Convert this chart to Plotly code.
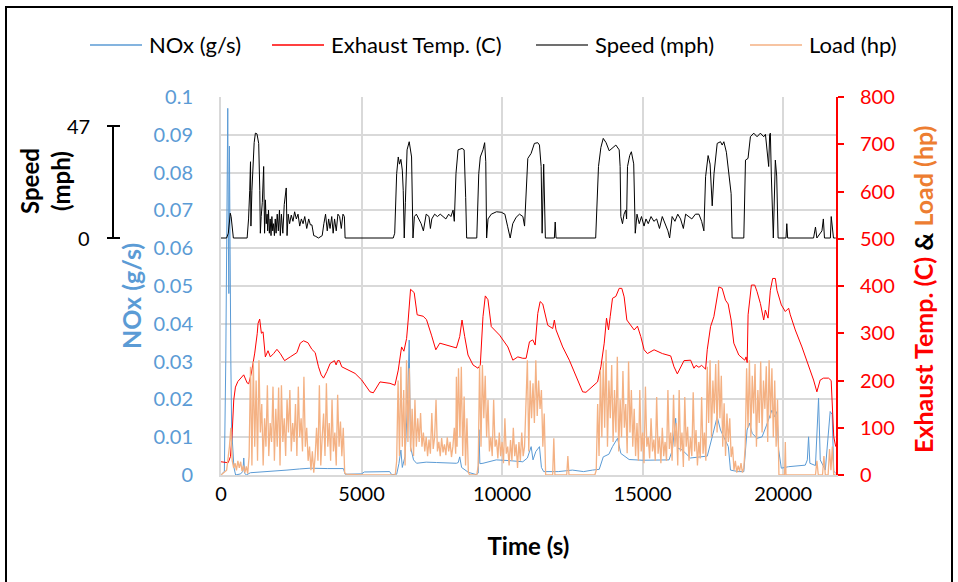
import plotly.graph_objects as go

# ---------------- data ----------------
nox_t = [0, 120, 170, 200, 240, 265, 280, 300, 320, 350, 380, 420, 460, 520, 700, 780, 810, 840, 900,
         1046, 1500, 2000, 2347, 2800, 3174, 3800, 4355, 4415, 5000, 5100, 6000, 6070, 6250, 6330, 6400,
         6450, 6550, 6640, 6696, 6740, 6850, 6958, 7300, 7666, 8000, 8375, 8440, 8493, 8560, 8670, 8800,
         9084, 9150, 9178, 9210, 9320, 9793, 10266, 10737, 10900, 11035, 11100, 11200, 11330, 11400,
         11480, 12000, 12500, 12900, 13220, 13456, 13600, 13800, 13929, 14107, 14225, 14520, 15000,
         15500, 15940, 16058, 16176, 16250, 16413, 16700, 17003, 17300, 17476, 17560, 17653, 17771,
         17949, 18050, 18126, 18400, 18600, 18716, 18800, 18900, 19071, 19250, 19400, 19485, 19604,
         19700, 19780, 19840, 19935, 20195, 20500, 20786, 20860, 20904, 20950, 21150, 21259, 21320,
         21500, 21673, 21744, 21800, 21870]
nox_v = [0.0, 0.001, 0.03, 0.06, 0.097, 0.06, 0.048, 0.087, 0.05, 0.03, 0.012, 0.006, 0.002, 0.0,
         0.0003, 0.001, 0.0045, 0.0005, 0.0, 0.0006, 0.0008, 0.0011, 0.0013, 0.0016, 0.0018, 0.0017,
         0.0017, 0.0002, 0.0003, 0.0008, 0.0009, 0.0001, 0.0002, 0.003, 0.0066, 0.002, 0.005, 0.02,
         0.0357, 0.0075, 0.004, 0.0031, 0.0034, 0.0033, 0.0032, 0.0031, 0.0033, 0.0048, 0.002, 0.0013,
         0.0007, 0.0001, 0.0005, 0.012, 0.003, 0.0031, 0.004, 0.0038, 0.0035, 0.0045, 0.0075, 0.004,
         0.0062, 0.0075, 0.002, 0.0009, 0.0009, 0.0013, 0.0009, 0.0013, 0.0015, 0.0048, 0.0055, 0.0075,
         0.0097, 0.0057, 0.0041, 0.0039, 0.004, 0.004, 0.0066, 0.015, 0.0071, 0.0066, 0.0045, 0.0048,
         0.005, 0.0101, 0.0125, 0.0154, 0.0119, 0.0088, 0.0075, 0.0013, 0.0009, 0.0009, 0.0119, 0.0137,
         0.011, 0.0097, 0.0101, 0.013, 0.0146, 0.0172, 0.0154, 0.0168, 0.0066, 0.0018, 0.0022, 0.0024,
         0.0026, 0.004, 0.0101, 0.0031, 0.0025, 0.0203, 0.004, 0.0013, 0.0168, 0.016, 0.001, 0.0005]

exh_t = [0, 150, 255, 337, 397, 454, 514, 600, 691, 808, 929, 985, 1082, 1200, 1290, 1319, 1376, 1400,
         1437, 1496, 1578, 1673, 1755, 1872, 1990, 2110, 2262, 2464, 2700, 2819, 2937, 3092, 3233, 3351,
         3469, 3564, 3647, 3765, 3883, 4036, 4096, 4150, 4213, 4297, 4533, 4770, 5006, 5184, 5302, 5420,
         5656, 6011, 6188, 6306, 6425, 6507, 6603, 6660, 6744, 6873, 6979, 7192, 7310, 7488, 7642, 7784,
         8020, 8375, 8493, 8575, 8670, 8788, 8965, 9142, 9225, 9320, 9403, 9497, 9616, 9911, 10206,
         10383, 10560, 10737, 10855, 10975, 11092, 11177, 11270, 11354, 11447, 11507, 11624, 11802,
         11860, 11920, 12156, 12393, 12630, 12866, 12984, 13220, 13397, 13515, 13634, 13716, 13787,
         13846, 13929, 14048, 14166, 14260, 14343, 14439, 14581, 14699, 14817, 14935, 15053, 15171,
         15408, 15703, 15999, 16117, 16235, 16354, 16472, 16708, 16826, 16900, 17003, 17100, 17240,
         17299, 17417, 17535, 17712, 17830, 17949, 18043, 18149, 18244, 18421, 18634, 18681, 18720,
         18752, 18871, 18989, 19071, 19190, 19308, 19367, 19462, 19545, 19627, 19722, 19780, 19935,
         20077, 20195, 20254, 20431, 20668, 20904, 21082, 21200, 21318, 21436, 21614, 21708, 21760,
         21800, 21870]
exh_v = [28, 27, 26, 39, 89, 159, 186, 198, 205, 212, 195, 193, 216, 258, 300, 321, 330, 318, 300, 303,
         250, 263, 250, 257, 266, 257, 242, 250, 259, 279, 284, 280, 266, 259, 229, 212, 205, 219, 236,
         242, 233, 242, 242, 229, 222, 215, 201, 187, 176, 174, 197, 194, 190, 222, 271, 262, 289, 328,
         393, 386, 339, 336, 329, 296, 265, 279, 275, 269, 293, 328, 293, 254, 233, 226, 233, 335, 379,
         371, 314, 296, 271, 243, 250, 247, 247, 282, 286, 275, 342, 367, 362, 346, 317, 310, 328, 307,
         271, 243, 208, 176, 175, 187, 197, 229, 279, 332, 307, 335, 374, 378, 395, 395, 377, 328, 317,
         307, 315, 293, 265, 257, 265, 257, 252, 229, 214, 229, 242, 243, 226, 232, 228, 232, 224, 265,
         314, 335, 398, 395, 370, 362, 328, 279, 254, 243, 250, 238, 339, 402, 402, 388, 363, 328, 349,
         332, 391, 416, 416, 391, 360, 346, 353, 339, 307, 271, 233, 201, 176, 201, 205, 205, 200, 120,
         81, 60]

spd_t = [0, 200, 260, 300, 330, 360, 400, 440, 930, 980, 1022, 1050, 1065, 1100, 1180, 1223, 1280,
         1341, 1380, 1400, 1430, 1470, 1518, 1540, 1550, 1580, 1610, 1640, 1660, 1690, 1720, 1750, 1780,
         1810, 1840, 1870, 1900, 1930, 1960, 2000, 2040, 2080, 2110, 2150, 2200, 2250, 2321, 2350, 2390,
         2440, 2500, 2560, 2620, 2680, 2740, 2800, 2860, 2920, 2980, 3050, 3120, 3180, 3234, 3300, 3351,
         3469, 3600, 3660, 3720, 3780, 3830, 3880, 3940, 3990, 4040, 4100, 4160, 4220, 4280, 4340, 4390,
         4415, 6128, 6180, 6250, 6306, 6350, 6400, 6450, 6483, 6519, 6560, 6620, 6696, 6780, 6830, 6880,
         6950, 7050, 7120, 7200, 7260, 7300, 7400, 7450, 7500, 7600, 7700, 7800, 7900, 8000, 8100, 8180,
         8256, 8300, 8360, 8434, 8577, 8650, 8705, 8740, 9100, 9170, 9225, 9320, 9380, 9420, 9450, 9500,
         9616, 9800, 9970, 10100, 10200, 10289, 10380, 10500, 10620, 10740, 10800, 10855, 10915, 11033,
         11150, 11270, 11330, 11390, 11425, 11480, 11540, 11860, 11890, 11920, 13330, 13430, 13515,
         13599, 13700, 13811, 13929, 14048, 14166, 14200, 14225, 14284, 14340, 14400, 14430, 14462,
         14540, 14600, 14683, 14738, 14800, 14880, 14960, 15050, 15120, 15200, 15300, 15400, 15500,
         15600, 15700, 15800, 15900, 15961, 16050, 16150, 16250, 16350, 16450, 16530, 16650, 16750,
         16880, 17003, 17100, 17180, 17240, 17330, 17400, 17476, 17540, 17653, 17771, 17830, 17890,
         17980, 18149, 18185, 18600, 18660, 18750, 18835, 18954, 19071, 19190, 19308, 19370, 19426,
         19485, 19520, 19545, 19580, 19650, 19722, 19770, 19820, 20100, 20130, 20160, 21082, 21150,
         21200, 21380, 21430, 21470, 21680, 21710, 21790, 21870]
spd_v = [0, 0, 2, 8, 10.4, 9, 3, 0, 0, 8, 20, 32, 5, 20, 40, 44, 43.7, 39.7, 20, 2, 9, 15, 30, 12, 2,
         16, 6, 10, 3, 11.7, 2, 8, 1, 9, 3, 6, 1, 8, 2, 10, 3, 11.7, 1, 10, 2, 14, 21, 1, 10, 6, 9.6, 7,
         11, 8, 10, 5, 8, 6, 9, 4, 8, 5.5, 5.5, 1, 0.8, 0, 1, 6, 10, 3, 8, 4, 9, 2, 8, 3, 10, 9, 4, 10,
         9, 0, 0, 2, 27, 34, 31, 33, 28.5, 20, 0, 15, 37, 40.4, 34, 0, 9, 10, 8, 6, 3, 8, 10, 9, 4, 8,
         10, 9, 10, 9, 8, 10, 9, 11.7, 7, 27, 37, 37.6, 37, 17, 0, 0, 27, 34, 37, 40, 32, 0, 8, 10, 11,
         10.8, 10, 4.7, 0, 6, 8.7, 10, 9, 5, 18, 33.4, 35.5, 39.7, 40, 39, 30, 2, 31, 0, 0, 6.7, 0, 0,
         30, 38, 41.8, 40, 36.6, 38, 39, 37, 30, 9, 6, 10, 11.7, 8, 30, 34.6, 36.2, 31.1, 2, 10, 6, 9,
         5, 8, 6, 9, 7, 8, 4, 9, 6, 3, 0, 9, 7, 10, 8, 4, 10, 9, 8, 10, 10, 7, 3, 25.7, 34.6, 31, 13.5,
         27, 39.7, 40.4, 39, 40.4, 36, 18.6, 0, 0, 32.7, 33.4, 42.5, 44, 42.5, 44, 42.5, 43.5, 37.7, 30,
         43.5, 44, 26, 0, 32.7, 26, 0, 0, 6, 0, 0, 4.6, 0, 3, 8, 0, 0, 9, 0, 0]

load_t = [0, 100, 200, 300, 350, 400, 450, 500, 550, 600, 650, 700, 750, 800, 850, 900, 950,
          1000, 1050, 1100, 1150, 1200, 1250, 1300, 1350, 1400, 1450, 1500, 1550, 1600, 1650, 1700,
          1750, 1800, 1850, 1900, 1950, 2000, 2050, 2100, 2150, 2200, 2250, 2300, 2350, 2400, 2450,
          2500, 2550, 2600, 2650, 2700, 2750, 2800, 2850, 2900, 2950, 3000, 3050, 3100, 3150, 3200,
          3250, 3300, 3350, 3400, 3450, 3500, 3550, 3600, 3650, 3700, 3750, 3800, 3850, 3900, 3950,
          4000, 4050, 4100, 4150, 4200, 4250, 4300, 4350, 4400, 4450, 5000, 6200,
          6250, 6300, 6350, 6400, 6450, 6500, 6550, 6600, 6650, 6700, 6750, 6800, 6850, 6900, 6950,
          7000, 7050, 7100, 7150, 7200, 7250, 7300, 7350, 7400, 7450, 7500, 7550, 7600, 7650, 7700,
          7750, 7800, 7850, 7900, 7950, 8000, 8050, 8100, 8150, 8200, 8250, 8300, 8350, 8375, 8400,
          8450, 8500, 8550, 8600, 8650, 8700, 8750, 8800, 8850, 9100,
          9150, 9200, 9250, 9300, 9350, 9400, 9450, 9500, 9550, 9600, 9650, 9700, 9750, 9800, 9850,
          9900, 9950, 10000, 10050, 10100, 10150, 10200, 10250, 10300, 10350, 10400, 10450, 10500,
          10550, 10600, 10650, 10700, 10750, 10800, 10850, 10900, 10950, 11000, 11050, 11100, 11150,
          11200, 11250, 11300, 11350, 11400, 11450, 11500, 11550, 11800, 11840, 11880, 12300, 12340,
          12380, 13300,
          13350, 13400, 13450, 13500, 13550, 13600, 13650, 13700, 13750, 13800, 13850, 13900, 13950,
          14000, 14050, 14100, 14150, 14200, 14250, 14300, 14350, 14400, 14450, 14500, 14550, 14600,
          14650, 14700, 14750, 14800, 14850, 14900, 14950, 15000, 15050, 15100, 15150, 15200, 15250,
          15300, 15350, 15400, 15450, 15500, 15550, 15600, 15650, 15700, 15750, 15800, 15850, 15900,
          15950, 16000, 16050, 16100, 16150, 16200, 16250, 16300, 16350, 16400, 16450, 16500, 16550,
          16600, 16650, 16700, 16750, 16800, 16850, 16900, 16950, 17000, 17050, 17100, 17150, 17200,
          17250, 17300, 17350, 17400, 17450, 17500, 17550, 17600, 17650, 17700, 17750, 17800, 17850,
          17900, 17950, 18000, 18050, 18100, 18150, 18200, 18250, 18300, 18350, 18400, 18450, 18500,
          18550, 18600, 18650, 18700, 18750, 18800, 18850, 18900, 18950, 19000, 19050, 19100, 19150,
          19200, 19250, 19300, 19350, 19400, 19450, 19500, 19550, 19600, 19650, 19700, 19750, 19800,
          19850, 20050, 20077, 20100, 21150, 21200, 21250, 21400, 21450, 21500, 21600, 21650, 21700,
          21750, 21800, 21870]
load_v = [0, 5, 10, 60, 100, 30, 15, 25, 10, 30, 15, 28, 8, 20, 5, 18, 3,
          40, 229, 20, 240, 60, 200, 30, 243, 90, 150, 20, 120, 60, 190, 40, 110, 70, 187, 30, 140, 60,
          185, 20, 190, 70, 120, 40, 160, 90, 180, 50, 110, 70, 150, 40, 187, 80, 120, 50, 208, 60, 100,
          30, 60, 10, 50, 5, 40, 100, 30, 190, 20, 80, 130, 40, 194, 60, 110, 30, 160, 50, 90, 20, 170,
          60, 113, 40, 100, 5, 2, 0, 0,
          30, 200, 40, 229, 60, 180, 20, 243, 70, 226, 50, 140, 40, 159, 60, 120, 70, 131, 60, 90, 50,
          81, 40, 75, 45, 131, 55, 80, 159, 50, 70, 40, 78, 48, 65, 42, 80, 50, 70, 38, 60, 100, 45, 208,
          60, 226, 80, 229, 40, 166, 20, 120, 5, 0, 0,
          20, 233, 60, 233, 120, 210, 80, 159, 50, 80, 40, 159, 60, 75, 35, 90, 40, 70, 25, 120, 45, 60,
          20, 74, 30, 100, 40, 65, 15, 70, 30, 90, 40, 60, 160, 243, 50, 200, 120, 194, 110, 243, 125,
          200, 140, 180, 60, 130, 0, 0, 78, 0, 0, 40, 0, 0,
          10, 150, 40, 222, 80, 240, 100, 265, 60, 200, 120, 233, 70, 180, 90, 250, 50, 160, 80, 220, 100,
          150, 46, 240, 90, 180, 60, 140, 40, 110, 30, 180, 50, 90, 25, 187, 60, 80, 35, 120, 50, 75, 30,
          165, 45, 81, 25, 100, 40, 70, 30, 180, 55, 90, 30, 170, 60, 110, 20, 180, 50, 90, 17, 165, 60,
          102, 30, 80, 40, 175, 50, 95, 20, 70, 35, 165, 45, 90, 30, 229, 110, 243, 80, 200, 130, 235,
          90, 243, 120, 210, 60, 152, 40, 130, 70, 120, 38, 60, 10, 30, 5, 20, 8, 25, 5, 15, 60, 226,
          100, 243, 80, 210, 130, 235, 60, 180, 110, 240, 90, 200, 140, 230, 70, 243, 120, 226, 80, 200,
          60, 160, 0, 0, 70, 0, 0, 30, 0, 0, 40, 0, 0, 55, 10, 60, 0, 0]

x_ticks = [0, 5000, 10000, 15000, 20000]
speed_ticks = [0, 47]

# ---------------- layout constants (pixels) ----------------
W, H = 958, 582
ML, MR, MT, MB = 221, 122, 97, 107
PW, PH = W - ML - MR, H - MT - MB
X_MAX = 21880


def px_x(px):
    return (px - ML) / PW


def px_y(py):
    return (H - MB - py) / PH


# speed axis: 0 mph at y=238 px, 47 mph at y=126 px
f0, f1 = px_y(238), px_y(126)
span = speed_ticks[1] / (f1 - f0)
spd_lo = -f0 * span
spd_hi = spd_lo + span

FONT = "Lato, 'Open Sans', sans-serif"
BLUE = "#5B9BD5"
RED = "#FF0000"
ORANGE_LINE = "#F4B183"
GRID = "#D9D9D9"
TICK = 20

fig = go.Figure()
fig.add_trace(go.Scatter(x=nox_t, y=nox_v, name="NOx (g/s)", mode="lines",
                         line=dict(color=BLUE, width=1), yaxis="y"))
fig.add_trace(go.Scatter(x=exh_t, y=exh_v, name="Exhaust Temp. (C)", mode="lines",
                         line=dict(color=RED, width=1), yaxis="y2"))
fig.add_trace(go.Scatter(x=load_t, y=load_v, name="Load (hp)", mode="lines",
                         line=dict(color=ORANGE_LINE, width=1.3), yaxis="y2"))
fig.add_trace(go.Scatter(x=spd_t, y=spd_v, name="Speed (mph)", mode="lines",
                         line=dict(color="black", width=1), yaxis="y3"))

fig.update_layout(
    width=W, height=H,
    margin=dict(l=ML, r=MR, t=MT, b=MB),
    paper_bgcolor="white", plot_bgcolor="white",
    showlegend=False,
    font=dict(family=FONT, size=TICK, color="black"),
    xaxis=dict(range=[0, X_MAX], tickvals=x_ticks, ticktext=[str(v) for v in x_ticks],
               showgrid=True, gridcolor=GRID, gridwidth=2,
               zeroline=False, showline=True, linecolor=GRID, linewidth=2, ticks="",
               tickfont=dict(size=TICK, color="black"),
               title=dict(text="<b>Time (s)</b>", font=dict(size=24, color="black"), standoff=34)),
    yaxis=dict(range=[0, 0.1], dtick=0.01, showgrid=True, gridcolor=GRID, gridwidth=2,
               zeroline=False, showline=True, linecolor=GRID, linewidth=2, ticks="",
               tickfont=dict(size=TICK, color=BLUE), ticklabelstandoff=22),
    yaxis2=dict(range=[0, 800], dtick=100, overlaying="y", side="right", showgrid=False,
                zeroline=False, showline=True, linecolor=RED, linewidth=2, ticks="outside",
                ticklen=6, tickwidth=2, tickcolor=RED, tickfont=dict(size=TICK, color=RED),
                ticklabelstandoff=12),
    yaxis3=dict(range=[spd_lo, spd_hi], overlaying="y", visible=False),
)

shapes = []
annotations = []

# custom speed axis (drawn on the speed scale)
sx = px_x(113)
shapes.append(dict(type="line", xref="paper", yref="y3", x0=sx, x1=sx,
                   y0=speed_ticks[0], y1=speed_ticks[1], line=dict(color="black", width=2)))
for v in speed_ticks:
    shapes.append(dict(type="line", xref="paper", yref="y3", x0=px_x(107), x1=px_x(120),
                       y0=v, y1=v, line=dict(color="black", width=2)))
    annotations.append(dict(text=str(v), xref="paper", yref="y3", x=px_x(92), y=v,
                            xanchor="right", yanchor="middle", showarrow=False,
                            font=dict(size=TICK, color="black")))
annotations.append(dict(text="<b>Speed<br>(mph)</b>", xref="paper", yref="paper",
                        x=px_x(45), y=px_y(181), xanchor="center", yanchor="middle",
                        textangle=-90, showarrow=False, font=dict(size=24, color="black")))

# NOx axis title
annotations.append(dict(text="<b>NOx (g/s)</b>", xref="paper", yref="paper",
                        x=px_x(131), y=px_y(296), xanchor="center", yanchor="middle",
                        textangle=-90, showarrow=False, font=dict(size=25, color=BLUE)))
# right axis title
annotations.append(dict(
    text=("<b><span style='color:#FF0000'>Exhaust Temp. (C)</span> "
          "<span style='color:black'>&amp;</span> "
          "<span style='color:#ED7D31'>Load (hp)</span></b>"),
    xref="paper", yref="paper", x=px_x(923), y=px_y(289), xanchor="center", yanchor="middle",
    textangle=-90, showarrow=False, font=dict(size=25)))

# legend (manual, to match spacing)
legend_items = [("NOx (g/s)", BLUE, 90), ("Exhaust Temp. (C)", RED, 272),
                ("Speed (mph)", "#404040", 536), ("Load (hp)", ORANGE_LINE, 750)]
ly = px_y(45)
for name, col, x0 in legend_items:
    shapes.append(dict(type="line", xref="paper", yref="paper", x0=px_x(x0), x1=px_x(x0 + 52),
                       y0=ly, y1=ly, line=dict(color=col, width=1.5)))
    annotations.append(dict(text=name, xref="paper", yref="paper", x=px_x(x0 + 57), y=ly,
                            xanchor="left", yanchor="middle", showarrow=False,
                            font=dict(size=22, color="black")))

# outer border
shapes.append(dict(type="rect", xref="paper", yref="paper", x0=px_x(6), x1=px_x(952),
                   y0=px_y(600), y1=px_y(7), line=dict(color="black", width=2),
                   fillcolor="rgba(0,0,0,0)", layer="above"))

fig.update_layout(shapes=shapes, annotations=annotations)
fig.write_html("out.html", config={"displayModeBar": False},
               post_script="document.body.style.margin='0px';")
